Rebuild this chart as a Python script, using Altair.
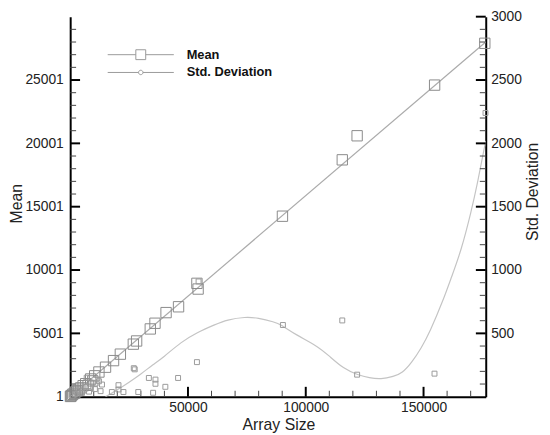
import altair as alt
import pandas as pd

# ---------------- data ----------------
mean_x = [176000, 154700, 121800, 115500, 90100, 53800, 54300, 46000, 40700, 36000,
          34000, 28200, 26800, 21300, 18400, 15000, 12200, 10400, 8700, 6600,
          5500, 4500, 3700, 3000, 2300, 1700, 1100, 600, 300, 100, 9600, 7600]
mean_y = [27900, 24600, 20600, 18700, 14250, 8950, 8500, 7100, 6640, 5800,
          5350, 4400, 4150, 3360, 2850, 2330, 1950, 1650, 1400, 1030,
          870, 700, 600, 470, 380, 270, 190, 100, 50, 20, 1250, 900]

std_x = [176300, 154650, 121800, 115500, 90300, 54500, 53800, 45800, 40400, 36200,
         36200, 35200, 33400, 28900, 27400, 27000, 22600, 20500, 20500, 17700,
         13500, 12200, 12900, 10500, 9500, 8000, 6500, 5000, 3500, 2000, 1000, 7000]
std_y = [2240, 182, 174, 602, 566, 910, 273, 148, 78, 135,
         102, 31, 148, 37, 216, 225, 37, 91, 57, 37,
         96, 122, 44, 60, 110, 40, 80, 30, 50, 20, 10, 150]

mean_fit_x = [0, 176400]
mean_fit_y = [1, 28000]

std_curve_x = [15000, 20000, 25000, 30000, 35000, 40000, 47000, 54000, 61000, 67000,
               74000, 80000, 86000, 90000, 96000, 104000, 110000, 116000, 122000, 127000,
               132000, 137000, 141000, 145000, 149000, 153000, 158000, 162000, 166000, 170000,
               173000, 176400]
std_curve_y = [0, 55, 115, 180, 250, 320, 425, 505, 565, 605,
               625, 618, 592, 560, 490, 405, 320, 230, 175, 150,
               143, 160, 195, 275, 387, 531, 751, 951, 1170, 1450,
               1700, 2020]

x_labels = [50000, 100000, 150000]
x_minor = [v for v in range(10000, 176000, 10000) if v not in x_labels]
mean_labels = [1, 5001, 10001, 15001, 20001, 25001]
mean_minor = [v for v in range(1001, 30001, 1000) if v not in mean_labels]
std_labels = [500, 1000, 1500, 2000, 2500, 3000]
std_minor = [v for v in range(100, 3000, 100) if v not in std_labels]

legend_labels = ["Mean", "Std. Deviation"]

# ---------------- styling ----------------
FONT = "Liberation Sans"
W, H = 421, 385
XMAX = 176400

xscale = alt.Scale(domain=[0, XMAX], nice=False, zero=False)
mscale = alt.Scale(domain=[1, 30001], nice=False, zero=False)
sscale = alt.Scale(domain=[0, 3000], nice=False, zero=False)

xaxis = alt.Axis(values=x_labels, format="d", ticks=False, grid=False,
                 domainColor="black", domainWidth=2, labelFontSize=14, labelFont=FONT,
                 labelColor="#222", labelPadding=4, title="Array Size", titleFont=FONT,
                 titleFontSize=16, titleFontWeight="normal", titleColor="#222",
                 titleX=211, titleY=33, titleBaseline="alphabetic", titleAlign="center")
maxis = alt.Axis(values=mean_labels, format="d", ticks=False, grid=False, orient="left",
                 domainColor="black", domainWidth=2, labelFontSize=14, labelFont=FONT,
                 labelColor="#222", labelPadding=7, title="Mean", titleFont=FONT,
                 titleFontSize=16, titleFontWeight="normal", titleColor="#222",
                 titleAngle=270, titleX=-54, titleY=189, titleBaseline="middle",
                 titleAlign="center")
saxis = alt.Axis(values=std_labels, format="d", ticks=False, grid=False, orient="right",
                 domainColor="black", domainWidth=2, labelFontSize=14, labelFont=FONT,
                 labelColor="#222", labelPadding=5, title="Std. Deviation", titleFont=FONT,
                 titleFontSize=16, titleFontWeight="normal", titleColor="#222",
                 titleAngle=270, titleX=47, titleY=177, titleBaseline="middle",
                 titleAlign="center")


def X(field):
    return alt.X(field, type="quantitative", scale=xscale, axis=xaxis)


def YM(field):
    return alt.Y(field, type="quantitative", scale=mscale, axis=maxis)


def YS(field):
    return alt.Y(field, type="quantitative", scale=sscale, axis=saxis)


df_mean = pd.DataFrame({"x": mean_x, "v": mean_y})
df_std = pd.DataFrame({"x": std_x, "v": std_y})
df_mfit = pd.DataFrame({"x": mean_fit_x, "v": mean_fit_y})
df_scurve = pd.DataFrame({"x": std_curve_x, "v": std_curve_y})
df_xmaj = pd.DataFrame({"t": x_labels})
df_xmin = pd.DataFrame({"t": x_minor})
df_mmaj = pd.DataFrame({"t": mean_labels[1:]})
df_mmin = pd.DataFrame({"t": mean_minor})
df_smaj = pd.DataFrame({"t": std_labels})
df_smin = pd.DataFrame({"t": std_minor})
df_leg = pd.DataFrame({"label": legend_labels})

# legend symbols: a line with a marker in the middle (custom paths)
path_mean = "M-6.7,0H-1M1,0H6.7M-1,-1H1V1H-1Z"
path_std = "M-6.7,0H-0.45M0.45,0H6.7M-0.45,0A0.45,0.45 0 1,0 0.45,0A0.45,0.45 0 1,0 -0.45,0"

# ---------------- mean group (left axis) ----------------
mean_line = alt.Chart(df_mfit).mark_line(color="#aaaaaa", strokeWidth=1.2).encode(
    x=X("x"), y=YM("v"))
mean_pts = alt.Chart(df_mean).mark_point(shape="square", size=110, filled=False,
                                         color="#8a8a8a", strokeWidth=1, opacity=1).encode(
    x=X("x"), y=YM("v"))
m_major = alt.Chart(df_mmaj).mark_rule(color="black", strokeWidth=2).encode(
    y=YM("t"), x=alt.value(0), x2=alt.value(10))
m_minor = alt.Chart(df_mmin).mark_rule(color="#444", strokeWidth=1).encode(
    y=YM("t"), x=alt.value(0), x2=alt.value(6))
x_major = alt.Chart(df_xmaj).mark_rule(color="black", strokeWidth=2).encode(
    x=X("t"), y=alt.value(H), y2=alt.value(H - 10))
x_minor_r = alt.Chart(df_xmin).mark_rule(color="#444", strokeWidth=1).encode(
    x=X("t"), y=alt.value(H), y2=alt.value(H - 6))
legend_layer = alt.Chart(df_leg).transform_filter("false").mark_point(
    filled=False, color="#999999", strokeWidth=1).encode(
    shape=alt.Shape("label:N",
                    scale=alt.Scale(domain=legend_labels, range=[path_mean, path_std]),
                    legend=alt.Legend(title=None, orient="none", legendX=65, legendY=32,
                                      symbolSize=100, symbolStrokeWidth=1,
                                      symbolStrokeColor="#999999",
                                      symbolFillColor="transparent",
                                      labelFont=FONT, labelFontSize=13,
                                      labelFontWeight="bold", labelColor="#111",
                                      labelOffset=40, rowPadding=4, padding=0,
                                      symbolOpacity=1)))

mean_group = alt.layer(mean_line, m_major, m_minor, x_major, x_minor_r, mean_pts,
                       legend_layer)

# ---------------- std group (right axis) ----------------
std_line = alt.Chart(df_scurve).mark_line(color="#c4c4c4", strokeWidth=1.2,
                                          interpolate="natural", clip=True).encode(
    x=X("x"), y=YS("v"))
std_pts = alt.Chart(df_std).mark_point(shape="square", size=25, filled=False,
                                       color="#9a9a9a", strokeWidth=1, opacity=1).encode(
    x=X("x"), y=YS("v"))
s_major = alt.Chart(df_smaj).mark_rule(color="black", strokeWidth=2).encode(
    y=YS("t"), x=alt.value(W), x2=alt.value(W - 10))
s_minor = alt.Chart(df_smin).mark_rule(color="#444", strokeWidth=1).encode(
    y=YS("t"), x=alt.value(W), x2=alt.value(W - 6))

std_group = alt.layer(std_line, s_major, s_minor, std_pts)

chart = alt.layer(mean_group, std_group).resolve_scale(y="independent").properties(
    width=W, height=H,
    autosize=alt.AutoSizeParams(type="none"),
    padding={"left": 63, "top": 6, "right": 57, "bottom": 36},
    background="white",
).configure_view(stroke=None)

chart.save("out.html", embed_options={"renderer": "svg", "actions": False})
